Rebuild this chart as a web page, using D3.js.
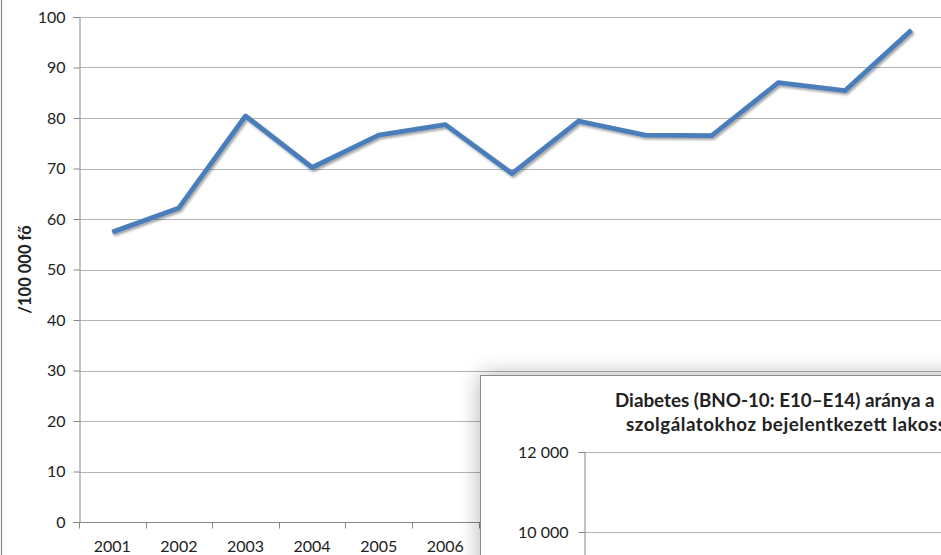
<!DOCTYPE html>
<html>
<head>
<meta charset="utf-8">
<script src="https://cdn.jsdelivr.net/npm/d3@7"></script>
<style>
  html, body { margin: 0; padding: 0; background: #fff; }
  svg { display: block; }
  text { font-family: Lato, "Open Sans", sans-serif; fill: #222; }
</style>
</head>
<body>
<svg id="chart" width="941" height="555"></svg>
<script>
// ---- data ----
const years = ["2001","2002","2003","2004","2005","2006","2007","2008","2009","2010","2011","2012","2013"];
const rates = [57.4, 62.2, 80.4, 70.2, 76.6, 78.7, 69.0, 79.4, 76.6, 76.5, 87.0, 85.4, 97.4];
const yTicks = [0, 10, 20, 30, 40, 50, 60, 70, 80, 90, 100];
const yTitle = "/100 000 fő";
const chart2Title = ["Diabetes (BNO-10: E10–E14) aránya a", "szolgálatokhoz bejelentkezett lakoss"];
const chart2Ticks = [0, 2000, 4000, 6000, 8000, 10000, 12000];

const svg = d3.select("#chart");
const W = 941, H = 555;

const defs = svg.append("defs");
const sh = defs.append("filter").attr("id", "lineShadow")
  .attr("x", "-10%").attr("y", "-10%").attr("width", "120%").attr("height", "120%");
sh.append("feDropShadow").attr("dx", 1.5).attr("dy", 2).attr("stdDeviation", 1.3)
  .attr("flood-color", "#000").attr("flood-opacity", 0.35);
const boxSh = defs.append("filter").attr("id", "boxShadow")
  .attr("x", "-20%").attr("y", "-20%").attr("width", "140%").attr("height", "140%");
boxSh.append("feGaussianBlur").attr("stdDeviation", 11);

// left border of the chart
svg.append("line").attr("x1", 1.5).attr("x2", 1.5).attr("y1", 0).attr("y2", H)
  .attr("stroke", "#8a8a8a").attr("stroke-width", 1.2);

// ---- main chart ----
const plotL = 79, plotT = 17, plotB = 522;
const step = 66.6;
const x = d3.scaleBand().domain(years).range([plotL, plotL + step * years.length]);
const y = d3.scaleLinear().domain([0, 100]).range([plotB, plotT]);

// gridlines
svg.append("g").selectAll("line").data(yTicks.filter(d => d > 0)).join("line")
  .attr("x1", plotL).attr("x2", W)
  .attr("y1", d => Math.round(y(d)) + 0.5).attr("y2", d => Math.round(y(d)) + 0.5)
  .attr("stroke", "#b4b4b4").attr("stroke-width", 1);

// y axis
const yAxis = d3.axisLeft(y).tickValues(yTicks).tickSize(6).tickPadding(8);
const gy = svg.append("g").attr("transform", `translate(${plotL + 0.5},0)`).call(yAxis);
gy.select(".domain").attr("stroke", "#868686");
gy.selectAll(".tick line").attr("stroke", "#868686");
gy.selectAll("text").attr("font-size", 16).attr("fill", "#222").style("font-family", "Lato, sans-serif");

// x axis
const gx = svg.append("g").attr("transform", `translate(0,${plotB + 0.5})`);
gx.append("line").attr("x1", plotL).attr("x2", W).attr("stroke", "#868686");
gx.selectAll("line.tk").data(years).join("line").attr("class", "tk")
  .attr("x1", d => Math.round(x(d)) + 0.5).attr("x2", d => Math.round(x(d)) + 0.5)
  .attr("y1", 0).attr("y2", 6).attr("stroke", "#868686");
gx.selectAll("text").data(years).join("text")
  .attr("x", d => x(d) + x.bandwidth() / 2).attr("y", 29)
  .attr("text-anchor", "middle").attr("font-size", 16).text(d => d);

// y title
svg.append("text").attr("transform", `translate(31,${(plotT + plotB) / 2}) rotate(-90)`)
  .attr("text-anchor", "middle").attr("font-size", 16.5).attr("font-weight", "bold")
  .text(yTitle);

// line
const line = d3.line().x((d, i) => x(years[i]) + x.bandwidth() / 2).y(d => y(d));
svg.append("path").datum(rates).attr("d", line)
  .attr("fill", "none").attr("stroke", "#4a7ebb").attr("stroke-width", 4.8)
  .attr("stroke-linejoin", "round").attr("filter", "url(#lineShadow)");

// ---- overlapping second chart ----
const bx = 480, by = 375;
svg.append("rect").attr("x", bx).attr("y", by).attr("width", W).attr("height", H)
  .attr("fill", "#000").attr("opacity", 0.3).attr("filter", "url(#boxShadow)");
svg.append("rect").attr("x", bx + 0.5).attr("y", by + 0.5).attr("width", W).attr("height", H)
  .attr("fill", "#fff").attr("stroke", "#8a8a8a").attr("stroke-width", 1);

const t2 = svg.append("text").attr("font-size", 18.8).attr("font-weight", "bold");
t2.append("tspan").attr("x", 615).attr("y", 407).text(chart2Title[0]);
t2.append("tspan").attr("x", 626).attr("y", 431).attr("textLength", 320)
  .attr("lengthAdjust", "spacing").text(chart2Title[1]);

const ax2 = 584;
const y2 = d3.scaleLinear().domain([0, 12000]).range([452 + 480, 452]);
const fmt = v => d3.format(",")(v).replace(/,/g, " ");
svg.append("g").selectAll("line").data(chart2Ticks).join("line")
  .attr("x1", ax2).attr("x2", W)
  .attr("y1", d => Math.round(y2(d)) + 0.5).attr("y2", d => Math.round(y2(d)) + 0.5)
  .attr("stroke", "#b4b4b4");
const gy2 = svg.append("g").attr("transform", `translate(${ax2 + 0.5},0)`)
  .call(d3.axisLeft(y2).tickValues(chart2Ticks).tickFormat(fmt).tickSize(6).tickPadding(10));
gy2.select(".domain").attr("stroke", "#868686");
gy2.selectAll(".tick line").attr("stroke", "#868686");
gy2.selectAll("text").attr("font-size", 16).attr("fill", "#222").style("font-family", "Lato, sans-serif");
</script>
</body>
</html>
